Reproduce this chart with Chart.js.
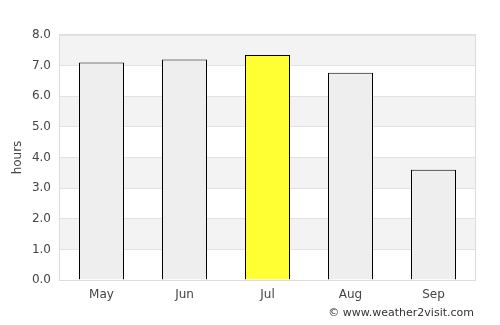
<!DOCTYPE html>
<html>
<head>
<meta charset="utf-8">
<script src="https://cdn.jsdelivr.net/npm/chart.js@4"></script>
<style>
  html, body { margin: 0; padding: 0; background: #fff; }
  #wrap { width: 500px; height: 325px; }
</style>
</head>
<body>
<div id="wrap"><canvas id="sunChart"></canvas></div>
<script>
const months = ['May', 'Jun', 'Jul', 'Aug', 'Sep'];
const sunHours = [7.1, 7.2, 7.35, 6.77, 3.6];
const barColors = ['#eeeeee', '#eeeeee', '#ffff33', '#eeeeee', '#eeeeee'];

// shaded bands behind the grid + frame + credit text
const bandsPlugin = {
    id: 'bands',
    beforeDraw(chart) {
        const { ctx, chartArea, scales } = chart;
        const y = scales.y;
        ctx.save();
        ctx.fillStyle = '#f3f3f3';
        for (let v = 1; v < 8; v += 2) {
            const top = y.getPixelForValue(v + 1);
            const bottom = y.getPixelForValue(v);
            ctx.fillRect(chartArea.left, top, chartArea.right - chartArea.left, bottom - top);
        }
        ctx.restore();
    },
    afterDraw(chart) {
        const { ctx, chartArea } = chart;
        ctx.save();
        ctx.strokeStyle = '#dddddd';
        ctx.lineWidth = 1;
        ctx.strokeRect(chartArea.left - 0.5, chartArea.top - 0.5,
            chartArea.right - chartArea.left + 1, chartArea.bottom - chartArea.top + 1);
        ctx.fillStyle = '#333';
        ctx.font = '11px "DejaVu Sans"';
        ctx.textAlign = 'right';
        ctx.textBaseline = 'middle';
        ctx.fillText('\u00a9 www.weather2visit.com', 474, 313);
        ctx.restore();
    }
};

const ctx = document.getElementById('sunChart').getContext('2d');

const sunChart = new Chart(ctx, {
    type: 'bar',
    data: {
        labels: months,
        datasets: [{
            label: 'hours',
            data: sunHours,
            backgroundColor: barColors,
            borderColor: '#000',
            borderWidth: 1,
            barPercentage: 45 / 83,
            categoryPercentage: 1
        }]
    },
    options: {
        responsive: true,
        maintainAspectRatio: false,
        animation: false,
        layout: { padding: { left: 0, top: 35, right: 25, bottom: 20 } },
        plugins: {
            legend: { display: false },
            tooltip: { enabled: false }
        },
        scales: {
            x: {
                grid: { display: false, drawTicks: false },
                border: { display: false },
                ticks: { color: '#444', font: { family: 'DejaVu Sans', size: 12 }, padding: 8 },
                afterFit(scale) { scale.height = 25; }
            },
            y: {
                min: 0,
                max: 8,
                ticks: {
                    stepSize: 1,
                    color: '#444',
                    font: { family: 'DejaVu Sans', size: 12 },
                    padding: 9,
                    callback: v => v.toFixed(1)
                },
                grid: { color: '#e2e2e2', drawTicks: false },
                border: { display: false },
                title: {
                    display: true,
                    text: 'hours',
                    color: '#444',
                    font: { family: 'DejaVu Sans', size: 12 },
                    padding: { top: 11, bottom: 0 }
                },
                afterFit(scale) { scale.width = 60; }
            }
        }
    },
    plugins: [bandsPlugin]
});
</script>
</body>
</html>
